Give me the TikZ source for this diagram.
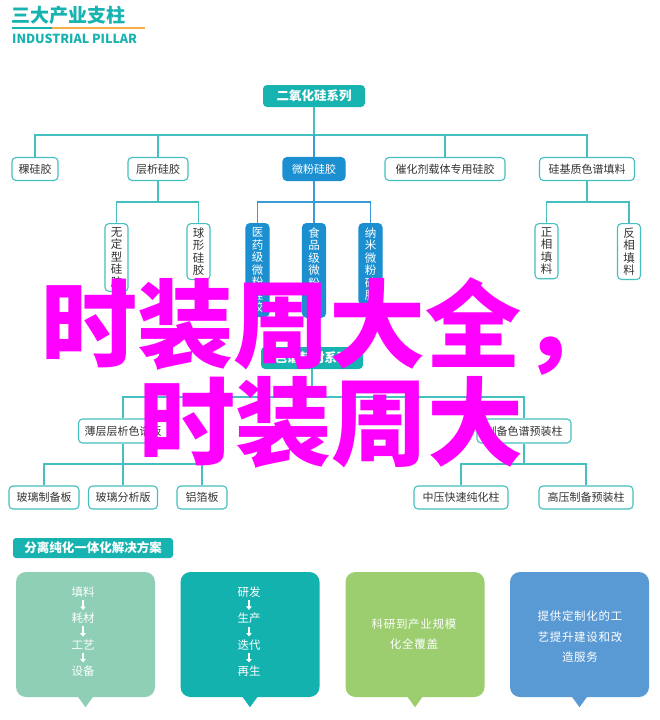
\documentclass[tikz,border=0pt]{standalone}
\usepackage{fontspec}
\setmainfont{Noto Sans CJK SC}
\usetikzlibrary{arrows.meta}
\definecolor{teal1}{HTML}{17B3B0}
\definecolor{tealline}{HTML}{45BFC0}
\definecolor{blue1}{HTML}{1C8FD0}
\definecolor{blueline}{HTML}{3A9BD8}
\definecolor{orange1}{HTML}{F5B04A}
\definecolor{textgray}{HTML}{333333}
\definecolor{cboxa}{HTML}{8ECFB6}
\definecolor{cboxb}{HTML}{14B2AE}
\definecolor{cboxc}{HTML}{9CCD6F}
\definecolor{cboxd}{HTML}{5A9AD4}
\definecolor{magenta1}{HTML}{FF00FF}
\begin{document}
\begin{tikzpicture}[x=1pt,y=-1pt,
  box/.style={draw=tealline, line width=1.1pt, rounded corners=4pt, fill=white, text=textgray,
    font=\fontsize{11}{12}\selectfont, minimum height=23pt, inner sep=0pt},
  tbox/.style={fill=teal1, rounded corners=4pt, text=white, font=\bfseries\fontsize{12.5}{13}\selectfont,
    minimum height=22pt, minimum width=102pt, inner sep=0pt},
  bbox/.style={box, fill=blue1, draw=blue1, text=white},
  vbox/.style={box, anchor=north, minimum width=23pt, align=center, inner ysep=4pt,
    font=\fontsize{11.5}{12.5}\selectfont},
  vbbox/.style={vbox, fill=blue1, draw=blue1, text=white},
  conn/.style={draw=tealline, line width=1.1pt},
  bconn/.style={draw=blueline, line width=1.1pt},
  callout/.style={rounded corners=10pt, minimum width=139pt, minimum height=125pt, inner sep=0pt},
  ctext/.style={text=white, font=\fontsize{11.5}{20.5}\selectfont, inner sep=0pt, align=center},
  carr/.style={draw=white, line width=1.4pt, -{Triangle[length=3.5pt,width=5.5pt]}, shorten <=2.5pt, shorten >=3pt},
  big/.style={text=magenta1, font=\bfseries\fontsize{96}{96}\selectfont, inner sep=0pt, anchor=base west}
]
\useasboundingbox (0,0) rectangle (660,720);
\fill[white] (0,0) rectangle (660,720);

% header
\node[anchor=west, text=teal1, font=\bfseries\fontsize{19}{20}\selectfont, inner sep=0pt] (title) at (11,15) {三大产业支柱};
\fill[teal1] (12,27) rectangle (52,29);
\fill[orange1] (52,27) rectangle (145,29);
\node[anchor=west, text=teal1, font=\bfseries\fontsize{12.5}{13}\selectfont, inner sep=0pt] (subtitle) at (12,38.5) {INDUSTRIAL PILLAR};

% top tree
\node[tbox] (top) at (314,96) {二氧化硅系列};
\node[box, minimum width=46pt] (l1a) at (35,169) {稞硅胶};
\node[box, minimum width=60pt] (l1b) at (158,169) {层析硅胶};
\node[bbox, minimum width=62pt] (l1c) at (314,169) {微粉硅胶};
\node[box, minimum width=120pt] (l1d) at (445,169) {催化剂载体专用硅胶};
\node[box, minimum width=95pt] (l1e) at (587,169) {硅基质色谱填料};

\node[vbox] (v1) at (116.5,223) {无\\定\\型\\硅\\胶};
\node[vbox] (v2) at (198.5,223) {球\\形\\硅\\胶};
\node[vbbox] (v3) at (257.5,223) {医\\药\\级\\微\\粉\\硅\\胶};
\node[vbbox] (v4) at (314,223) {食\\品\\级\\微\\粉\\硅\\胶};
\node[vbbox] (v5) at (370.5,223) {纳\\米\\微\\粉\\硅\\胶};
\node[vbox] (v6) at (546.5,223) {正\\相\\填\\料};
\node[vbox] (v7) at (629,223) {反\\相\\填\\料};

\coordinate (j0) at (314,135);
\draw[conn] (top.south) -- (j0);
\draw[conn] (l1a.north) |- (j0) -| (l1e.north);
\draw[conn] (l1b.north) -- (l1b.north |- j0);
\draw[conn] (l1d.north) -- (l1d.north |- j0);
\draw[bconn] (l1c.north) -- (j0);

\coordinate (j1) at (158,202);
\draw[conn] (l1b.south) -- (j1);
\draw[conn] (v1.north) |- (j1) -| (v2.north);
\coordinate (j2) at (314,202);
\draw[bconn] (l1c.south) -- (v4.north);
\draw[bconn] (v3.north) |- (j2) -| (v5.north);
\coordinate (j3) at (587,202);
\draw[conn] (l1e.south) -- (j3);
\draw[conn] (v6.north) |- (j3) -| (v7.north);

% middle tree
\node[tbox] (m0) at (312,358) {色谱耗材系列};
\node[box, minimum width=89pt, minimum height=24pt] (m1) at (123,431) {薄层层析色谱板};
\node[box, minimum width=94pt, minimum height=24pt] (m2) at (524,431) {制备色谱预装柱};
\node[box, minimum width=70pt] (n1) at (44,497.5) {玻璃制备板};
\node[box, minimum width=69pt] (n2) at (123,497.5) {玻璃分析版};
\node[box, minimum width=50pt] (n3) at (202,497.5) {铝箔板};
\node[box, minimum width=94pt] (n4) at (461,497.5) {中压快速纯化柱};
\node[box, minimum width=94pt] (n5) at (586,497.5) {高压制备预装柱};

\coordinate (j4) at (312,397);
\draw[conn] (m0.south) -- (j4);
\draw[conn] (m1.north) |- (j4) -| (m2.north);
\coordinate (j5) at (123,464);
\draw[conn] (m1.south) -- (n2.north);
\draw[conn] (n1.north) |- (j5) -| (n3.north);
\coordinate (j6) at (524,464);
\draw[conn] (m2.south) -- (j6);
\draw[conn] (n4.north) |- (j6) -| (n5.north);

% bottom
\node[fill=teal1, rounded corners=3pt, minimum width=160pt, minimum height=20pt, inner sep=0pt,
  text=white, font=\bfseries\fontsize{12.5}{13}\selectfont] (banner) at (93,548) {分离纯化一体化解决方案};

\node[callout, fill=cboxa] (c1) at (85.5,634.5) {};
\node[callout, fill=cboxb] (c2) at (250,634.5) {};
\node[callout, fill=cboxc] (c3) at (415,634.5) {};
\node[callout, fill=cboxd] (c4) at (579.5,634.5) {};
\fill[cboxa] ([xshift=-8pt,yshift=1pt]c1.south) -- ([xshift=8pt,yshift=1pt]c1.south) -- ([yshift=-10pt]c1.south) -- cycle;
\fill[cboxb] ([xshift=-8pt,yshift=1pt]c2.south) -- ([xshift=8pt,yshift=1pt]c2.south) -- ([yshift=-10pt]c2.south) -- cycle;
\fill[cboxc] ([xshift=-8pt,yshift=1pt]c3.south) -- ([xshift=8pt,yshift=1pt]c3.south) -- ([yshift=-10pt]c3.south) -- cycle;
\fill[cboxd] ([xshift=-8pt,yshift=1pt]c4.south) -- ([xshift=8pt,yshift=1pt]c4.south) -- ([yshift=-10pt]c4.south) -- cycle;

\node[ctext] (a1) at (83,592) {填料};
\node[ctext] (a2) at (83,618.5) {耗材};
\node[ctext] (a3) at (83,645) {工艺};
\node[ctext] (a4) at (83,671) {设备};
\draw[carr] (a1) -- (a2);
\draw[carr] (a2) -- (a3);
\draw[carr] (a3) -- (a4);

\node[ctext] (b1) at (249,592) {研发};
\node[ctext] (b2) at (249,618.5) {生产};
\node[ctext] (b3) at (249,645) {迭代};
\node[ctext] (b4) at (249,671) {再生};
\draw[carr] (b1) -- (b2);
\draw[carr] (b2) -- (b3);
\draw[carr] (b3) -- (b4);

\node[ctext, font=\addfontfeatures{LetterSpace=6}\fontsize{11.5}{20.5}\selectfont] (t3) at (414,634) {科研到产业规模\\化全覆盖};
\node[ctext, font=\addfontfeatures{LetterSpace=6}\fontsize{11.5}{20.5}\selectfont] (t4) at (580,637) {提供定制化的工\\艺提升建设和改\\造服务};

% overlay text
\node[big] (ov1) at (41,360) {时装周大全，};
\node[big] (ov2) at (139,458) {时装周大};
\end{tikzpicture}
\end{document}
